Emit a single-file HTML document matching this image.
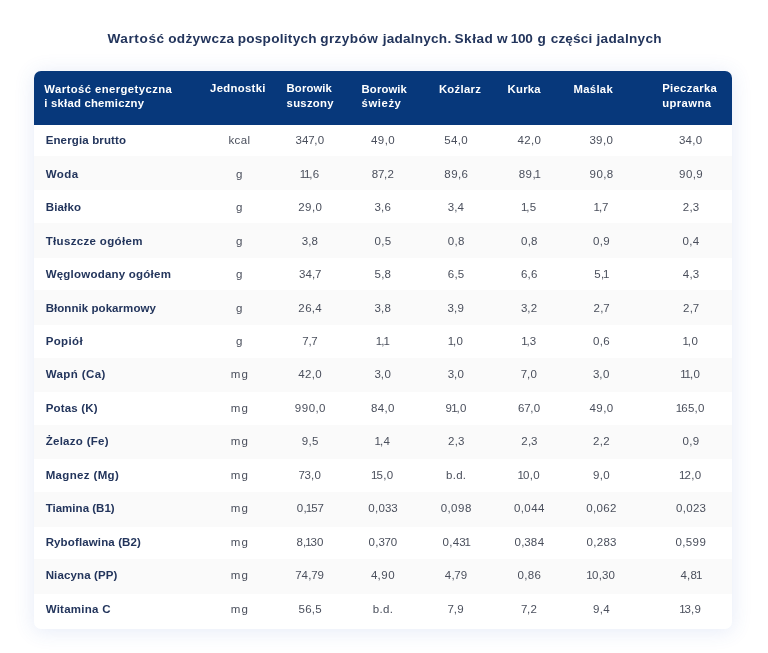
<!DOCTYPE html>
<html lang="pl"><head><meta charset="utf-8"><title>Wartość odżywcza grzybów</title>
<style>
html,body{margin:0;padding:0;background:#fff;}
body{width:768px;height:653px;position:relative;overflow:hidden;font-family:"Liberation Sans",sans-serif;}
.t{position:absolute;white-space:nowrap;line-height:16px;}
.tx{position:absolute;left:0;top:0;width:768px;height:653px;will-change:transform;filter:blur(0.4px);}
.title{font-size:13.6px;font-weight:700;color:#23355c;}
.card{position:absolute;left:34.4px;top:70.8px;width:697.20px;height:558.00px;background:#fff;border-radius:7px;box-shadow:0 2px 20px 1px rgba(60,95,195,0.12);}
.head{position:absolute;left:34.4px;top:70.8px;width:697.20px;height:53.90px;background:#07387b;border-radius:7px 7px 0 0;}
.g{position:absolute;left:34.4px;width:697.20px;height:34.6px;background:#fafafa;}
.h{font-size:11.3px;font-weight:700;color:#fff;}
.l{left:45.65px;font-size:11.5px;font-weight:700;color:#23355c;}
.v{width:80px;margin-left:-40px;text-align:center;font-size:11.5px;color:#4a4f5c;}
.v i{font-style:normal;}
.d0{margin:0 0.27px;}
.d1{margin:0 -1.08px;}
.d2{margin:0 0.22px;}
.d3{margin:0 -0.08px;}
.d4{margin:0 0.19px;}
.d5{margin:0 0.16px;}
.d6{margin:0 0.18px;}
.d7{margin:0 -0.37px;}
.d8{margin:0 0.20px;}
.d9{margin:0 0.34px;}
.dc{margin:0 0.07px;}

</style></head><body>
<div class="card"></div>
<div class="g" style="top:155.80px"></div>
<div class="g" style="top:223.06px"></div>
<div class="g" style="top:290.32px"></div>
<div class="g" style="top:357.58px"></div>
<div class="g" style="top:424.84px"></div>
<div class="g" style="top:492.10px"></div>
<div class="g" style="top:559.36px"></div>
<div class="head"></div>
<div class="tx">
<div class="t title" style="left:107.40px;top:31.09px;letter-spacing:0.600px">Wartość</div>
<div class="t title" style="left:168.15px;top:31.09px;letter-spacing:0.359px">odżywcza</div>
<div class="t title" style="left:237.65px;top:31.09px;letter-spacing:0.269px">pospolitych</div>
<div class="t title" style="left:320.15px;top:31.09px;letter-spacing:0.432px">grzybów</div>
<div class="t title" style="left:382.70px;top:31.09px;letter-spacing:0.221px">jadalnych.</div>
<div class="t title" style="left:454.40px;top:31.09px;letter-spacing:0.554px">Skład</div>
<div class="t title" style="left:496.90px;top:31.09px;letter-spacing:0.000px">w</div>
<div class="t title" style="left:510.65px;top:31.09px;letter-spacing:-0.221px">100</div>
<div class="t title" style="left:537.40px;top:31.09px;letter-spacing:0.000px">g</div>
<div class="t title" style="left:550.65px;top:31.09px;letter-spacing:0.183px">części</div>
<div class="t title" style="left:596.45px;top:31.09px;letter-spacing:0.314px">jadalnych</div>
<div class="t h" style="left:44.30px;top:81.28px;letter-spacing:0.425px">Wartość energetyczna</div>
<div class="t h" style="left:44.30px;top:94.98px;letter-spacing:0.222px">i skład chemiczny</div>
<div class="t h" style="left:210.00px;top:80.48px;letter-spacing:0.344px">Jednostki</div>
<div class="t h" style="left:286.60px;top:80.48px;letter-spacing:0.121px">Borowik</div>
<div class="t h" style="left:286.60px;top:94.78px;letter-spacing:0.281px">suszony</div>
<div class="t h" style="left:361.60px;top:81.28px;letter-spacing:0.121px">Borowik</div>
<div class="t h" style="left:361.60px;top:95.38px;letter-spacing:0.573px">świeży</div>
<div class="t h" style="left:438.90px;top:80.58px;letter-spacing:0.319px">Koźlarz</div>
<div class="t h" style="left:507.60px;top:81.38px;letter-spacing:0.243px">Kurka</div>
<div class="t h" style="left:573.50px;top:80.58px;letter-spacing:0.302px">Maślak</div>
<div class="t h" style="left:662.20px;top:80.28px;letter-spacing:0.319px">Pieczarka</div>
<div class="t h" style="left:662.20px;top:94.58px;letter-spacing:0.389px">uprawna</div>
<div class="t l" style="top:132.22px;letter-spacing:0.143px">Energia brutto</div>
<div class="t v" style="left:239.49px;top:132.22px;letter-spacing:0.383px">kcal</div><div class="t v" style="left:310.00px;top:132.22px"><i class="d3">3</i><i class="d4">4</i><i class="d7">7</i><i class="dc">,</i><i class="d0">0</i></div><div class="t v" style="left:382.80px;top:132.22px"><i class="d4">4</i><i class="d9">9</i><i class="dc">,</i><i class="d0">0</i></div><div class="t v" style="left:456.00px;top:132.22px"><i class="d5">5</i><i class="d4">4</i><i class="dc">,</i><i class="d0">0</i></div><div class="t v" style="left:529.20px;top:132.22px"><i class="d4">4</i><i class="d2">2</i><i class="dc">,</i><i class="d0">0</i></div><div class="t v" style="left:601.30px;top:132.22px"><i class="d3">3</i><i class="d9">9</i><i class="dc">,</i><i class="d0">0</i></div><div class="t v" style="left:690.80px;top:132.22px"><i class="d3">3</i><i class="d4">4</i><i class="dc">,</i><i class="d0">0</i></div>
<div class="t l" style="top:165.68px;letter-spacing:0.486px">Woda</div>
<div class="t v" style="left:239.30px;top:165.68px;letter-spacing:0.000px">g</div><div class="t v" style="left:310.00px;top:165.68px"><i class="d1">1</i><i class="d1">1</i><i class="dc">,</i><i class="d6">6</i></div><div class="t v" style="left:382.80px;top:165.68px"><i class="d8">8</i><i class="d7">7</i><i class="dc">,</i><i class="d2">2</i></div><div class="t v" style="left:456.00px;top:165.68px"><i class="d8">8</i><i class="d9">9</i><i class="dc">,</i><i class="d6">6</i></div><div class="t v" style="left:529.20px;top:165.68px"><i class="d8">8</i><i class="d9">9</i><i class="dc">,</i><i class="d1">1</i></div><div class="t v" style="left:601.30px;top:165.68px"><i class="d9">9</i><i class="d0">0</i><i class="dc">,</i><i class="d8">8</i></div><div class="t v" style="left:690.80px;top:165.68px"><i class="d9">9</i><i class="d0">0</i><i class="dc">,</i><i class="d9">9</i></div>
<div class="t l" style="top:199.14px;letter-spacing:0.187px">Białko</div>
<div class="t v" style="left:239.30px;top:199.14px;letter-spacing:0.000px">g</div><div class="t v" style="left:310.00px;top:199.14px"><i class="d2">2</i><i class="d9">9</i><i class="dc">,</i><i class="d0">0</i></div><div class="t v" style="left:382.80px;top:199.14px"><i class="d3">3</i><i class="dc">,</i><i class="d6">6</i></div><div class="t v" style="left:456.00px;top:199.14px"><i class="d3">3</i><i class="dc">,</i><i class="d4">4</i></div><div class="t v" style="left:529.20px;top:199.14px"><i class="d1">1</i><i class="dc">,</i><i class="d5">5</i></div><div class="t v" style="left:601.30px;top:199.14px"><i class="d1">1</i><i class="dc">,</i><i class="d7">7</i></div><div class="t v" style="left:690.80px;top:199.14px"><i class="d2">2</i><i class="dc">,</i><i class="d3">3</i></div>
<div class="t l" style="top:232.60px;letter-spacing:0.338px">Tłuszcze ogółem</div>
<div class="t v" style="left:239.30px;top:232.60px;letter-spacing:0.000px">g</div><div class="t v" style="left:310.00px;top:232.60px"><i class="d3">3</i><i class="dc">,</i><i class="d8">8</i></div><div class="t v" style="left:382.80px;top:232.60px"><i class="d0">0</i><i class="dc">,</i><i class="d5">5</i></div><div class="t v" style="left:456.00px;top:232.60px"><i class="d0">0</i><i class="dc">,</i><i class="d8">8</i></div><div class="t v" style="left:529.20px;top:232.60px"><i class="d0">0</i><i class="dc">,</i><i class="d8">8</i></div><div class="t v" style="left:601.30px;top:232.60px"><i class="d0">0</i><i class="dc">,</i><i class="d9">9</i></div><div class="t v" style="left:690.80px;top:232.60px"><i class="d0">0</i><i class="dc">,</i><i class="d4">4</i></div>
<div class="t l" style="top:266.06px;letter-spacing:0.227px">Węglowodany ogółem</div>
<div class="t v" style="left:239.30px;top:266.06px;letter-spacing:0.000px">g</div><div class="t v" style="left:310.00px;top:266.06px"><i class="d3">3</i><i class="d4">4</i><i class="dc">,</i><i class="d7">7</i></div><div class="t v" style="left:382.80px;top:266.06px"><i class="d5">5</i><i class="dc">,</i><i class="d8">8</i></div><div class="t v" style="left:456.00px;top:266.06px"><i class="d6">6</i><i class="dc">,</i><i class="d5">5</i></div><div class="t v" style="left:529.20px;top:266.06px"><i class="d6">6</i><i class="dc">,</i><i class="d6">6</i></div><div class="t v" style="left:601.30px;top:266.06px"><i class="d5">5</i><i class="dc">,</i><i class="d1">1</i></div><div class="t v" style="left:690.80px;top:266.06px"><i class="d4">4</i><i class="dc">,</i><i class="d3">3</i></div>
<div class="t l" style="top:299.52px;letter-spacing:0.061px">Błonnik pokarmowy</div>
<div class="t v" style="left:239.30px;top:299.52px;letter-spacing:0.000px">g</div><div class="t v" style="left:310.00px;top:299.52px"><i class="d2">2</i><i class="d6">6</i><i class="dc">,</i><i class="d4">4</i></div><div class="t v" style="left:382.80px;top:299.52px"><i class="d3">3</i><i class="dc">,</i><i class="d8">8</i></div><div class="t v" style="left:456.00px;top:299.52px"><i class="d3">3</i><i class="dc">,</i><i class="d9">9</i></div><div class="t v" style="left:529.20px;top:299.52px"><i class="d3">3</i><i class="dc">,</i><i class="d2">2</i></div><div class="t v" style="left:601.30px;top:299.52px"><i class="d2">2</i><i class="dc">,</i><i class="d7">7</i></div><div class="t v" style="left:690.80px;top:299.52px"><i class="d2">2</i><i class="dc">,</i><i class="d7">7</i></div>
<div class="t l" style="top:332.98px;letter-spacing:0.363px">Popiół</div>
<div class="t v" style="left:239.30px;top:332.98px;letter-spacing:0.000px">g</div><div class="t v" style="left:310.00px;top:332.98px"><i class="d7">7</i><i class="dc">,</i><i class="d7">7</i></div><div class="t v" style="left:382.80px;top:332.98px"><i class="d1">1</i><i class="dc">,</i><i class="d1">1</i></div><div class="t v" style="left:456.00px;top:332.98px"><i class="d1">1</i><i class="dc">,</i><i class="d0">0</i></div><div class="t v" style="left:529.20px;top:332.98px"><i class="d1">1</i><i class="dc">,</i><i class="d3">3</i></div><div class="t v" style="left:601.30px;top:332.98px"><i class="d0">0</i><i class="dc">,</i><i class="d6">6</i></div><div class="t v" style="left:690.80px;top:332.98px"><i class="d1">1</i><i class="dc">,</i><i class="d0">0</i></div>
<div class="t l" style="top:366.44px;letter-spacing:0.403px">Wapń (Ca)</div>
<div class="t v" style="left:239.96px;top:366.44px;letter-spacing:1.323px">mg</div><div class="t v" style="left:310.00px;top:366.44px"><i class="d4">4</i><i class="d2">2</i><i class="dc">,</i><i class="d0">0</i></div><div class="t v" style="left:382.80px;top:366.44px"><i class="d3">3</i><i class="dc">,</i><i class="d0">0</i></div><div class="t v" style="left:456.00px;top:366.44px"><i class="d3">3</i><i class="dc">,</i><i class="d0">0</i></div><div class="t v" style="left:529.20px;top:366.44px"><i class="d7">7</i><i class="dc">,</i><i class="d0">0</i></div><div class="t v" style="left:601.30px;top:366.44px"><i class="d3">3</i><i class="dc">,</i><i class="d0">0</i></div><div class="t v" style="left:690.80px;top:366.44px"><i class="d1">1</i><i class="d1">1</i><i class="dc">,</i><i class="d0">0</i></div>
<div class="t l" style="top:399.90px;letter-spacing:0.184px">Potas (K)</div>
<div class="t v" style="left:239.96px;top:399.90px;letter-spacing:1.323px">mg</div><div class="t v" style="left:310.00px;top:399.90px"><i class="d9">9</i><i class="d9">9</i><i class="d0">0</i><i class="dc">,</i><i class="d0">0</i></div><div class="t v" style="left:382.80px;top:399.90px"><i class="d8">8</i><i class="d4">4</i><i class="dc">,</i><i class="d0">0</i></div><div class="t v" style="left:456.00px;top:399.90px"><i class="d9">9</i><i class="d1">1</i><i class="dc">,</i><i class="d0">0</i></div><div class="t v" style="left:529.20px;top:399.90px"><i class="d6">6</i><i class="d7">7</i><i class="dc">,</i><i class="d0">0</i></div><div class="t v" style="left:601.30px;top:399.90px"><i class="d4">4</i><i class="d9">9</i><i class="dc">,</i><i class="d0">0</i></div><div class="t v" style="left:690.80px;top:399.90px"><i class="d1">1</i><i class="d6">6</i><i class="d5">5</i><i class="dc">,</i><i class="d0">0</i></div>
<div class="t l" style="top:433.36px;letter-spacing:0.289px">Żelazo (Fe)</div>
<div class="t v" style="left:239.96px;top:433.36px;letter-spacing:1.323px">mg</div><div class="t v" style="left:310.00px;top:433.36px"><i class="d9">9</i><i class="dc">,</i><i class="d5">5</i></div><div class="t v" style="left:382.80px;top:433.36px"><i class="d1">1</i><i class="dc">,</i><i class="d4">4</i></div><div class="t v" style="left:456.00px;top:433.36px"><i class="d2">2</i><i class="dc">,</i><i class="d3">3</i></div><div class="t v" style="left:529.20px;top:433.36px"><i class="d2">2</i><i class="dc">,</i><i class="d3">3</i></div><div class="t v" style="left:601.30px;top:433.36px"><i class="d2">2</i><i class="dc">,</i><i class="d2">2</i></div><div class="t v" style="left:690.80px;top:433.36px"><i class="d0">0</i><i class="dc">,</i><i class="d9">9</i></div>
<div class="t l" style="top:466.82px;letter-spacing:0.352px">Magnez (Mg)</div>
<div class="t v" style="left:239.96px;top:466.82px;letter-spacing:1.323px">mg</div><div class="t v" style="left:310.00px;top:466.82px"><i class="d7">7</i><i class="d3">3</i><i class="dc">,</i><i class="d0">0</i></div><div class="t v" style="left:382.80px;top:466.82px"><i class="d1">1</i><i class="d5">5</i><i class="dc">,</i><i class="d0">0</i></div><div class="t v" style="left:456.15px;top:466.82px;letter-spacing:0.306px">b.d.</div><div class="t v" style="left:529.20px;top:466.82px"><i class="d1">1</i><i class="d0">0</i><i class="dc">,</i><i class="d0">0</i></div><div class="t v" style="left:601.30px;top:466.82px"><i class="d9">9</i><i class="dc">,</i><i class="d0">0</i></div><div class="t v" style="left:690.80px;top:466.82px"><i class="d1">1</i><i class="d2">2</i><i class="dc">,</i><i class="d0">0</i></div>
<div class="t l" style="top:500.28px;letter-spacing:0.022px">Tiamina (B1)</div>
<div class="t v" style="left:239.96px;top:500.28px;letter-spacing:1.323px">mg</div><div class="t v" style="left:310.00px;top:500.28px"><i class="d0">0</i><i class="dc">,</i><i class="d1">1</i><i class="d5">5</i><i class="d7">7</i></div><div class="t v" style="left:382.80px;top:500.28px"><i class="d0">0</i><i class="dc">,</i><i class="d0">0</i><i class="d3">3</i><i class="d3">3</i></div><div class="t v" style="left:456.00px;top:500.28px"><i class="d0">0</i><i class="dc">,</i><i class="d0">0</i><i class="d9">9</i><i class="d8">8</i></div><div class="t v" style="left:529.20px;top:500.28px"><i class="d0">0</i><i class="dc">,</i><i class="d0">0</i><i class="d4">4</i><i class="d4">4</i></div><div class="t v" style="left:601.30px;top:500.28px"><i class="d0">0</i><i class="dc">,</i><i class="d0">0</i><i class="d6">6</i><i class="d2">2</i></div><div class="t v" style="left:690.80px;top:500.28px"><i class="d0">0</i><i class="dc">,</i><i class="d0">0</i><i class="d2">2</i><i class="d3">3</i></div>
<div class="t l" style="top:533.74px;letter-spacing:0.131px">Ryboflawina (B2)</div>
<div class="t v" style="left:239.96px;top:533.74px;letter-spacing:1.323px">mg</div><div class="t v" style="left:310.00px;top:533.74px"><i class="d8">8</i><i class="dc">,</i><i class="d1">1</i><i class="d3">3</i><i class="d0">0</i></div><div class="t v" style="left:382.80px;top:533.74px"><i class="d0">0</i><i class="dc">,</i><i class="d3">3</i><i class="d7">7</i><i class="d0">0</i></div><div class="t v" style="left:456.00px;top:533.74px"><i class="d0">0</i><i class="dc">,</i><i class="d4">4</i><i class="d3">3</i><i class="d1">1</i></div><div class="t v" style="left:529.20px;top:533.74px"><i class="d0">0</i><i class="dc">,</i><i class="d3">3</i><i class="d8">8</i><i class="d4">4</i></div><div class="t v" style="left:601.30px;top:533.74px"><i class="d0">0</i><i class="dc">,</i><i class="d2">2</i><i class="d8">8</i><i class="d3">3</i></div><div class="t v" style="left:690.80px;top:533.74px"><i class="d0">0</i><i class="dc">,</i><i class="d5">5</i><i class="d9">9</i><i class="d9">9</i></div>
<div class="t l" style="top:567.20px;letter-spacing:0.132px">Niacyna (PP)</div>
<div class="t v" style="left:239.96px;top:567.20px;letter-spacing:1.323px">mg</div><div class="t v" style="left:310.00px;top:567.20px"><i class="d7">7</i><i class="d4">4</i><i class="dc">,</i><i class="d7">7</i><i class="d9">9</i></div><div class="t v" style="left:382.80px;top:567.20px"><i class="d4">4</i><i class="dc">,</i><i class="d9">9</i><i class="d0">0</i></div><div class="t v" style="left:456.00px;top:567.20px"><i class="d4">4</i><i class="dc">,</i><i class="d7">7</i><i class="d9">9</i></div><div class="t v" style="left:529.20px;top:567.20px"><i class="d0">0</i><i class="dc">,</i><i class="d8">8</i><i class="d6">6</i></div><div class="t v" style="left:601.30px;top:567.20px"><i class="d1">1</i><i class="d0">0</i><i class="dc">,</i><i class="d3">3</i><i class="d0">0</i></div><div class="t v" style="left:690.80px;top:567.20px"><i class="d4">4</i><i class="dc">,</i><i class="d8">8</i><i class="d1">1</i></div>
<div class="t l" style="top:600.66px;letter-spacing:0.259px">Witamina C</div>
<div class="t v" style="left:239.96px;top:600.66px;letter-spacing:1.323px">mg</div><div class="t v" style="left:310.00px;top:600.66px"><i class="d5">5</i><i class="d6">6</i><i class="dc">,</i><i class="d5">5</i></div><div class="t v" style="left:382.95px;top:600.66px;letter-spacing:0.306px">b.d.</div><div class="t v" style="left:456.00px;top:600.66px"><i class="d7">7</i><i class="dc">,</i><i class="d9">9</i></div><div class="t v" style="left:529.20px;top:600.66px"><i class="d7">7</i><i class="dc">,</i><i class="d2">2</i></div><div class="t v" style="left:601.30px;top:600.66px"><i class="d9">9</i><i class="dc">,</i><i class="d4">4</i></div><div class="t v" style="left:690.80px;top:600.66px"><i class="d1">1</i><i class="d3">3</i><i class="dc">,</i><i class="d9">9</i></div>
</div>
</body></html>
